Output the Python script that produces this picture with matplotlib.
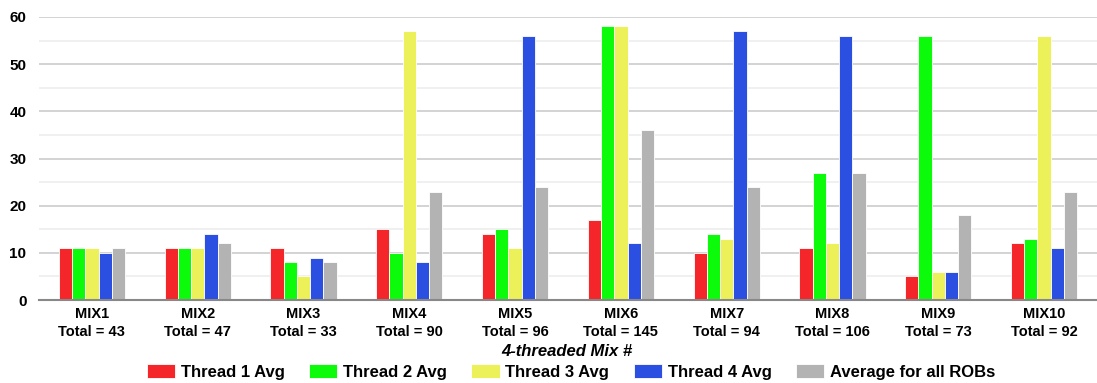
import matplotlib
matplotlib.use("Agg")
import matplotlib.pyplot as plt
import numpy as np

mixes = ["MIX1", "MIX2", "MIX3", "MIX4", "MIX5", "MIX6", "MIX7", "MIX8", "MIX9", "MIX10"]
totals = [43, 47, 33, 90, 96, 145, 94, 106, 73, 92]
series_names = ["Thread 1 Avg", "Thread 2 Avg", "Thread 3 Avg", "Thread 4 Avg", "Average for all ROBs"]
thread1 = [11, 11, 11, 15, 14, 17, 10, 11, 5, 12]
thread2 = [11, 11, 8, 10, 15, 58, 14, 27, 56, 13]
thread3 = [11, 11, 5, 57, 11, 58, 13, 12, 6, 56]
thread4 = [10, 14, 9, 8, 56, 12, 57, 56, 6, 11]
avg_all = [11, 12, 8, 23, 24, 36, 24, 27, 18, 23]
colors = ["#f42629", "#0bfb0b", "#ecf15a", "#2b4fe0", "#b3b3b3"]

plt.rcParams['font.family'] = ['Liberation Sans', 'DejaVu Sans']
fig = plt.figure(figsize=(10.97, 3.83), dpi=100)
ax = fig.add_axes([39/1097, 1 - 300/383, 1058/1097, 283/383])

series = [thread1, thread2, thread3, thread4, avg_all]
x = np.arange(len(mixes))
bw = 0.125
for i, (vals, c, name) in enumerate(zip(series, colors, series_names)):
    ax.bar(x + (i - 2) * bw, vals, width=bw, color=c, edgecolor="white", linewidth=0.6, label=name, zorder=3)

ax.set_xlim(-0.5, len(mixes) - 0.5)
ax.set_ylim(0, 60)
ax.set_yticks([0, 10, 20, 30, 40, 50, 60])
ax.set_yticks([5, 15, 25, 35, 45, 55], minor=True)
ax.grid(axis="y", which="major", color="#cccccc", linewidth=1.2, zorder=0)
ax.grid(axis="y", which="minor", color="#eeeeee", linewidth=1.2, zorder=0)
ax.tick_params(axis="y", which="both", length=0, pad=9, labelsize=11)
for lab in ax.get_yticklabels():
    lab.set_fontweight("bold")
ax.set_xticks(x)
ax.set_xticklabels([f"{m}\nTotal = {t}" for m, t in zip(mixes, totals)], fontsize=10.5, fontweight="bold", linespacing=1.4)
ax.tick_params(axis="x", length=0, pad=5)
for s in ["top", "right", "left"]:
    ax.spines[s].set_visible(False)
ax.spines["bottom"].set_color("#888888")
ax.spines["bottom"].set_linewidth(1.5)
ax.spines["bottom"].set_zorder(4)

fig.text(567/1097, 1 - 351/383, "4-threaded Mix #", ha="center", va="center", fontsize=12, fontweight="bold", fontstyle="italic")
fig.legend(loc="center", bbox_to_anchor=(571/1097, 1 - 372/383), ncol=5, frameon=False,
           prop={"weight": "bold", "size": 12}, handlelength=1.7, handleheight=0.85, columnspacing=1.45, handletextpad=0.35)

fig.savefig("out.png", dpi=100)
